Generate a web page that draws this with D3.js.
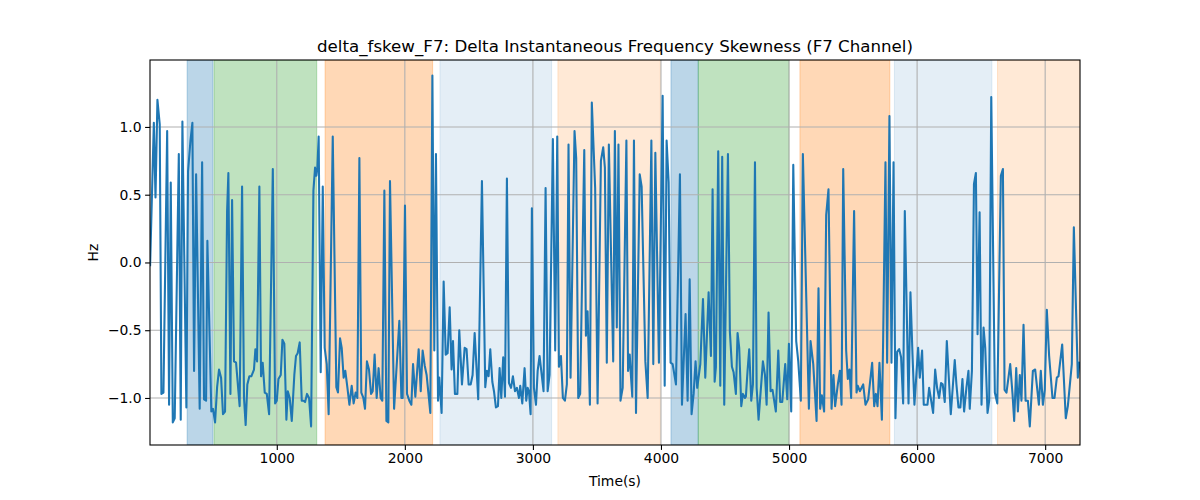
<!DOCTYPE html>
<html>
<head>
<meta charset="utf-8">
<script src="https://cdn.jsdelivr.net/npm/d3@7"></script>
<style>
  html, body { margin: 0; padding: 0; background: #fff; }
  svg { display: block; }
  text { font-family: "DejaVu Sans", sans-serif; fill: #000; }
</style>
</head>
<body>
<div id="chart"></div>
<script>
const titleText = "delta_fskew_F7: Delta Instantaneous Frequency Skewness (F7 Channel)";
const xLabel = "Time(s)";
const yLabel = "Hz";
const xTicks = [1000, 2000, 3000, 4000, 5000, 6000, 7000];
const yTicks = [-1.0, -0.5, 0.0, 0.5, 1.0];
const xDomain = [10, 7272];
const yDomain = [-1.347, 1.494];

// Shaded segments: start, end, colour, opacity
const spanStarts = [300, 510, 1377, 2274, 3195, 4078, 4291, 5085, 5823, 6628];
const spanEnds   = [502, 1312, 2217, 3146, 3995, 4291, 4999, 5787, 6584, 7272];
const spanColors = ["#1f77b4", "#2ca02c", "#ff7f0e", "#1f77b4", "#ff7f0e", "#1f77b4", "#2ca02c", "#ff7f0e", "#1f77b4", "#ff7f0e"];
const spanAlphas = [0.3, 0.3, 0.3, 0.12, 0.17, 0.3, 0.3, 0.3, 0.12, 0.17];

const times = [
11,40,53,68,86,99,115,144,159,172,188,203,235,250,263,294,307,326,341,354,370,398,417,432,448,458,489,502,518,534,549,565,580,596,612,622,638,651,666,682,710,729,744,757,770,786,801,822,833,846,864,877,890,906,
922,940,969,987,1000,1013,1031,1044,1059,1075,1086,1101,1117,1137,1150,1163,1179,1195,1210,1221,1236,1252,1268,1286,1299,1309,1317,1327,1343,1359,1374,1390,1405,1437,1465,1478,1494,1507,1522,1535,1551,1567,1585,1600,1616,1629,1645,1660,1676,1689,1704,1720,1736,1749,1764,1780,1795,1811,1824,1840,1856,
1871,1884,1916,1957,1973,1983,2001,2017,2035,2051,2064,2082,2108,2124,2139,2155,2170,2199,2215,2230,2243,2259,2269,2287,2303,2319,2334,2350,2365,2376,2391,2410,2425,2446,2467,2482,2498,2514,2529,2545,2573,2602,2628,2641,2654,2667,2683,2696,2711,2727,2740,2753,2768,
2782,2797,2813,2829,2844,2860,2875,2891,2901,2917,2935,2948,2959,2969,2982,2992,3008,3024,3037,3052,3083,3099,3115,3130,3156,3174,3190,3203,3219,3234,3250,3265,3278,3294,3325,3338,3354,3369,3401,3414,3427,3445,3460,3486,3505,3531,3549,3562,3577,3593,3627,3640,3655,3668,3684,
3701,3730,3743,3756,3763,3776,3789,3805,3834,3849,3878,3896,3925,3940,3956,3984,4013,4029,4044,4060,4075,4091,4117,4148,4164,4192,4208,4224,4239,4255,4270,4283,4307,4328,4346,4372,4390,4403,4419,4429,4447,4463,4478,4494,4523,4538,4554,4567,4585,4598,
4611,4627,4640,4656,4663,4676,4689,4705,4718,4734,4747,4762,4796,4812,4825,4840,4856,4871,4897,4916,4931,4947,4970,4986,4999,5017,5033,5056,5072,5092,5108,5155,5168,5189,5215,5230,5243,5256,5274,5290,5308,5332,5347,5360,5381,5397,5410,5423,5446,5459,5472,5485,5508,
5527,5537,5553,5579,5597,5618,5649,5665,5678,5691,5706,5725,5735,5753,5766,5784,5800,5816,5831,5844,5860,5875,5891,5904,5933,5948,5964,5979,6008,6021,6039,6052,6081,6094,6125,6141,6156,6172,6187,6200,6216,6232,6247,6263,6294,6307,6323,6338,6354,6367,6385,6401,6411,6428,
6444,6459,6472,6488,6503,6519,6532,6550,6563,6579,6607,6626,6654,6670,6683,6698,6727,6745,6758,6774,6787,6802,6815,6831,6847,6865,6880,6904,6922,6951,6966,6982,6997,7013,7031,7057,7073,7091,7104,7133,7161,7177,7208,7224,7255,7268
];

const values = [
-0.02,1.03,0.48,1.2,1.02,-0.97,-0.96,0.97,-1.05,0.59,-1.18,-1.15,0.8,-1.16,1.04,-1.07,0.67,0.9,1.03,-0.8,0.65,-1.08,0.74,-1.01,-1.02,0.16,-1.1,-1.08,-1.18,-0.92,-0.79,-0.85,-1.12,-1.1,0.38,0.66,-0.97,0.46,-0.73,-0.74,-1.06,0.56,-1.0,-1.2,-0.9,-0.84,-0.84,-0.79,-0.64,-0.73,0.56,-0.84,-0.74,-0.96,
-0.97,-1.12,0.69,-1.04,-1.02,-0.86,-0.83,-0.57,-0.6,-1.16,-0.95,-1.0,-1.17,-0.83,-0.69,-0.67,-0.59,-1.02,-1.02,-1.03,-0.97,-1.0,-1.21,0.53,0.7,0.64,0.7,0.93,-0.81,0.56,-0.63,-0.75,-1.12,0.93,-0.92,-0.96,-0.56,-0.63,-0.85,-0.8,-0.92,-1.05,-0.91,-1.04,-0.96,-1.0,0.77,-0.96,-1.0,-1.08,-0.73,-0.79,-0.97,-0.95,-0.68,-1.0,-0.78,-1.0,-1.02,0.53,-1.17,
-1.18,0.6,-1.08,-0.43,-1.0,-1.0,0.42,-0.97,-1.02,-1.05,-0.75,-0.99,-0.64,-0.95,-0.65,-0.76,-0.83,-1.11,1.38,-0.65,0.8,-1.02,-0.85,-1.11,-0.14,-0.68,-0.67,-0.33,-0.79,-0.58,-0.97,-0.97,-0.5,-0.9,-0.63,-0.64,-0.9,-0.9,-0.83,-0.52,-1.01,0.6,-0.92,-0.8,-0.84,-0.64,-0.88,-0.95,-1.07,-1.06,-0.78,-1.0,-0.7,
-0.99,0.62,-0.89,-0.925,-0.84,-0.95,-0.925,-1.0,-0.91,-1.04,-0.78,-1.02,-0.925,-0.95,-1.12,0.4,-0.925,-1.05,-0.8,-0.69,-0.95,0.55,-0.95,-0.83,0.91,-0.65,0.93,-0.77,-0.69,-1.0,-1.02,-0.9,0.87,-0.85,0.97,0.77,-1.0,-0.97,0.83,-0.54,-0.36,-1.05,1.18,0.55,-1.04,0.75,0.85,0.7,-0.74,0.87,-0.73,0.97,-0.48,0.87,-1.02,
-0.925,0.9,-0.8,-0.68,-0.8,-0.99,0.9,-1.11,0.65,0.56,-0.73,-1.0,0.9,-0.75,0.81,-0.74,1.23,-0.91,0.9,0.59,-0.74,-0.75,-0.9,0.65,-1.05,-0.38,-1.02,-0.125,-1.12,-0.97,-0.73,-0.925,-0.75,-0.27,-0.85,-0.22,-0.69,0.54,-0.88,-0.77,0.82,-0.91,0.78,-1.05,0.8,-0.51,-0.77,-0.81,-0.97,-0.52,
-0.63,-1.06,-0.97,-1.0,-0.99,-0.8,-0.64,-1.02,-0.9,0.74,-0.925,-1.16,-0.73,-0.83,-1.05,-0.37,-0.95,-0.94,-1.1,-0.65,-1.03,-1.03,-0.75,-1.01,-0.6,-1.1,0.72,-0.58,-0.73,-1.02,0.8,-1.08,-0.58,-0.75,-1.17,-0.19,-1.08,-0.98,-1.1,0.35,0.54,-1.08,-0.83,-1.06,-0.9,-0.8,-1.05,0.69,-0.65,-0.86,-0.79,-1.0,0.38,
-0.96,-0.91,-0.95,-0.9,-1.05,-1.01,-0.74,-1.06,-0.97,-1.06,-0.74,-1.16,-0.56,0.74,-0.74,1.08,-0.74,0.74,-1.15,-0.66,-0.64,-0.7,-1.04,0.38,-1.04,-0.22,-0.68,-1.05,-0.63,-0.85,-0.65,-1.05,-1.05,-0.925,-1.11,-0.79,-0.925,-1.0,-0.89,-0.9,-1.03,-0.58,-0.84,-1.12,-0.72,-0.9,-1.07,-1.07,-0.86,-1.1,-0.925,-0.8,-1.08,-0.8,
0.58,0.66,-0.53,0.37,-1.05,-0.48,-0.63,-1.11,-1.02,1.22,-0.96,-1.04,0.64,0.69,-0.94,-0.96,-0.75,-0.97,-1.17,-0.78,-1.1,-0.83,-1.02,-0.46,-1.02,-1.02,-1.21,-0.8,-0.79,-1.05,-0.8,-1.05,-0.94,-0.35,-0.69,-1.0,-1.0,-0.85,-0.84,-0.605,-1.15,-1.06,-0.75,0.26,-0.85,-0.74
];

const W = 1200, H = 500;
const margin = { left: 150, right: 120, top: 60, bottom: 55 };
const iw = W - margin.left - margin.right;
const ih = H - margin.top - margin.bottom;

const svg = d3.select("#chart").append("svg")
  .attr("width", W).attr("height", H);

const x = d3.scaleLinear().domain(xDomain).range([0, iw]);
const y = d3.scaleLinear().domain(yDomain).range([ih, 0]);

const g = svg.append("g").attr("transform", `translate(${margin.left},${margin.top})`);

g.append("clipPath").attr("id", "clip").append("rect")
  .attr("width", iw).attr("height", ih);

const plot = g.append("g").attr("clip-path", "url(#clip)");

// spans
const spans = d3.range(spanStarts.length).map(i => ({
  s: spanStarts[i], e: spanEnds[i], c: spanColors[i], a: spanAlphas[i]
}));
plot.selectAll("rect.span").data(spans).enter().append("rect")
  .attr("class", "span")
  .attr("x", d => x(d.s))
  .attr("width", d => x(d.e) - x(d.s))
  .attr("y", 0).attr("height", ih)
  .attr("fill", d => d.c)
  .attr("fill-opacity", d => d.a)
  .attr("stroke", d => d.c)
  .attr("stroke-opacity", d => d.a)
  .attr("stroke-width", 1);

// grid
plot.selectAll("line.gx").data(xTicks).enter().append("line")
  .attr("x1", d => x(d)).attr("x2", d => x(d))
  .attr("y1", 0).attr("y2", ih)
  .attr("stroke", "#b0b0b0").attr("stroke-width", 1.1);
plot.selectAll("line.gy").data(yTicks).enter().append("line")
  .attr("y1", d => y(d)).attr("y2", d => y(d))
  .attr("x1", 0).attr("x2", iw)
  .attr("stroke", "#b0b0b0").attr("stroke-width", 1.1);

// line
const pts = times.map((t, i) => [t, values[i]]);
plot.append("path")
  .datum(pts)
  .attr("fill", "none")
  .attr("stroke", "#1f77b4")
  .attr("stroke-width", 2.08)
  .attr("stroke-linejoin", "round")
  .attr("stroke-linecap", "square")
  .attr("d", d3.line().x(d => x(d[0])).y(d => y(d[1])));

// axes
const fs = 13.9;
const xAxis = d3.axisBottom(x).tickValues(xTicks).tickFormat(d3.format("d"))
  .tickSize(4.9).tickPadding(3.5);
const yAxis = d3.axisLeft(y).tickValues(yTicks).tickFormat(d3.format(".1f"))
  .tickSize(4.9).tickPadding(3.5);

const gx = g.append("g").attr("transform", `translate(0,${ih})`).call(xAxis);
const gy = g.append("g").call(yAxis);
[gx, gy].forEach(a => {
  a.select(".domain").remove();
  a.selectAll(".tick line").attr("stroke", "#000").attr("stroke-width", 1.1);
  a.selectAll(".tick text").attr("font-family", "DejaVu Sans").attr("font-size", fs).attr("fill", "#000");
});
gy.selectAll(".tick text").text(d => d3.format(".1f")(d).replace("-", "\u2212"));

// frame
g.append("rect").attr("width", iw).attr("height", ih)
  .attr("fill", "none").attr("stroke", "#000").attr("stroke-width", 1.1);

// labels
svg.append("text")
  .attr("x", margin.left + iw / 2).attr("y", 52)
  .attr("text-anchor", "middle")
  .attr("font-size", 16.67)
  .text(titleText);

svg.append("text")
  .attr("x", margin.left + iw / 2).attr("y", 486)
  .attr("text-anchor", "middle")
  .attr("font-size", fs)
  .text(xLabel);

svg.append("text")
  .attr("transform", `translate(98,${margin.top + ih / 2}) rotate(-90)`)
  .attr("text-anchor", "middle")
  .attr("font-size", fs)
  .text(yLabel);
</script>
</body>
</html>
